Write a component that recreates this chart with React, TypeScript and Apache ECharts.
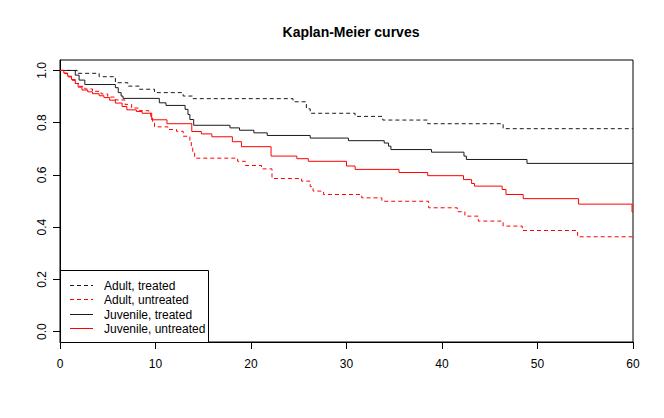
import React, { useEffect, useRef } from "react";
import * as echarts from "echarts";

const FONT = "'Liberation Sans', Arial, Helvetica, sans-serif";

const seriesNames = ["Adult, treated", "Adult, untreated", "Juvenile, treated", "Juvenile, untreated"];
const xTicks = [0, 10, 20, 30, 40, 50, 60];
const yTicks = [0, 0.2, 0.4, 0.6, 0.8, 1.0];

const adultTreatedT = [0, 1.8, 4.1, 5.8, 7.1, 8.3, 9.9, 12.9, 13.9, 24.4, 25.8, 26.2, 30.9, 33.8, 38.5, 46.4, 60];
const adultTreatedS = [1, 0.989, 0.976, 0.953, 0.94, 0.928, 0.915, 0.902, 0.892, 0.88, 0.853, 0.836, 0.824, 0.81, 0.796, 0.777, 0.777];

const adultUntreatedT = [0, 0.5, 0.9, 1.3, 1.6, 2.0, 2.6, 3.4, 4.3, 5.0, 5.8, 6.8, 7.5, 8.3, 9.3, 9.5, 9.7, 9.9, 11.3, 12.2, 12.9, 13.6, 13.75, 13.9, 14.1, 18.6, 19.4, 21.1, 22.2, 25.3, 26.2, 26.5, 27.6, 31.6, 33.7, 38.6, 41.6, 42.4, 43.8, 46.4, 48.4, 54.2, 60];
const adultUntreatedS = [1, 0.988, 0.975, 0.962, 0.95, 0.939, 0.929, 0.92, 0.91, 0.898, 0.887, 0.87, 0.856, 0.846, 0.838, 0.822, 0.805, 0.784, 0.774, 0.767, 0.748, 0.728, 0.705, 0.685, 0.664, 0.652, 0.636, 0.623, 0.586, 0.576, 0.555, 0.538, 0.525, 0.512, 0.499, 0.474, 0.459, 0.442, 0.423, 0.404, 0.387, 0.363, 0.363];

const juvTreatedT = [0, 1.6, 2.0, 2.6, 5.8, 6.1, 6.4, 6.6, 10.4, 11.1, 13.1, 13.4, 13.6, 14.0, 17.8, 18.8, 20.3, 21.7, 26.2, 30.2, 33.95, 34.4, 34.65, 38.9, 42.3, 42.55, 48.9, 60];
const juvTreatedS = [1, 0.982, 0.963, 0.946, 0.934, 0.915, 0.902, 0.893, 0.876, 0.866, 0.851, 0.831, 0.812, 0.79, 0.78, 0.771, 0.761, 0.751, 0.741, 0.731, 0.722, 0.71, 0.697, 0.687, 0.672, 0.659, 0.644, 0.644];

const juvUntreatedT = [0, 0.4, 0.8, 1.2, 1.6, 1.9, 2.3, 2.9, 3.4, 4.1, 4.6, 5.2, 5.8, 6.5, 7.0, 8.0, 8.6, 9.6, 11.2, 13.8, 14.8, 15.9, 18.05, 19.0, 22.1, 24.8, 26.0, 30.0, 30.9, 35.5, 38.5, 42.25, 43.1, 43.4, 46.3, 46.7, 48.5, 54.3, 59.9, 60];
const juvUntreatedS = [1, 0.99, 0.978, 0.965, 0.95, 0.936, 0.925, 0.918, 0.911, 0.903, 0.896, 0.886, 0.875, 0.862, 0.849, 0.843, 0.836, 0.811, 0.796, 0.766, 0.757, 0.746, 0.727, 0.708, 0.672, 0.662, 0.652, 0.634, 0.621, 0.609, 0.597, 0.582, 0.567, 0.557, 0.544, 0.525, 0.509, 0.488, 0.458, 0.458];

const zip = (t: number[], s: number[]) => t.map((v, i) => [v, s[i]]);

const BLACK = "#1a1a1a";
const RED = "#ff0000";
const seriesColors = [BLACK, RED, BLACK, RED];
const seriesDashed = [true, true, false, false];

export default function App() {
  const ref = useRef<HTMLDivElement>(null);
  useEffect(() => {
    document.body.style.margin = "0";
    if (!ref.current) return;
    const chart = echarts.init(ref.current, null, { renderer: "svg" });
    const mk = (i: number, data: number[][]) => ({
      name: seriesNames[i],
      type: "line",
      step: "end",
      data,
      symbol: "none",
      showSymbol: false,
      lineStyle: { color: seriesColors[i], width: 1, type: seriesDashed[i] ? [4, 3] : "solid" },
      itemStyle: { color: seriesColors[i] },
      emphasis: { disabled: true },
    });

    // legend drawn in R style
    const legX = 60, legY = 270, legW = 148, legH = 72, rowH = 14.35, firstRow = 285;
    const legendEls: any[] = [
      {
        id: "legbox",
        type: "rect",
        shape: { x: legX + 0.5, y: legY + 0.5, width: legW, height: legH },
        style: { fill: "#fff", stroke: "#000", lineWidth: 1 },
        z: 100,
      },
    ];
    seriesNames.forEach((name, i) => {
      const y = Math.round(firstRow + i * rowH) + 0.5;
      const segs = seriesDashed[i] ? [[70, 74], [77, 81], [84, 88], [91, 93]] : [[70, 93]];
      segs.forEach((s, k) => {
        legendEls.push({
          id: "legline" + i + "_" + k,
          type: "line",
          shape: { x1: s[0], y1: y, x2: s[1], y2: y },
          style: { stroke: seriesColors[i], lineWidth: 1 },
          z: 101,
        });
      });
      legendEls.push({
        id: "legtext" + i,
        type: "text",
        x: 104,
        y: y,
        style: { text: name, fontSize: 12, fontFamily: FONT, fill: "#000", verticalAlign: "middle", align: "left" },
        z: 101,
      });
    });

    chart.setOption({
      animation: false,
      backgroundColor: "#fff",
      title: {
        text: "Kaplan-Meier curves",
        left: 346,
        top: 20,
        textAlign: "center",
        textStyle: { fontSize: 14, fontWeight: "bold", color: "#000", fontFamily: FONT },
      },
      grid: {
        left: 60,
        right: 31,
        top: 60,
        bottom: 76,
        show: true,
        borderColor: "#000",
        borderWidth: 1,
        backgroundColor: "transparent",
      },
      xAxis: {
        type: "value",
        min: xTicks[0],
        max: xTicks[xTicks.length - 1],
        interval: 10,
        axisLine: { show: true, onZero: false, lineStyle: { color: "#000", width: 1 } },
        axisTick: { show: true, inside: false, length: 7, lineStyle: { color: "#000" } },
        axisLabel: { margin: 16, fontSize: 12, color: "#000", fontFamily: FONT },
        splitLine: { show: false },
      },
      yAxis: {
        type: "value",
        min: -0.04,
        max: 1.04,
        axisLine: { show: true, onZero: false, lineStyle: { color: "#000", width: 1 } },
        axisTick: { show: true, inside: false, length: 7, customValues: yTicks, lineStyle: { color: "#000" } },
        axisLabel: {
          customValues: yTicks,
          rotate: 90,
          margin: 12,
          fontSize: 12,
          color: "#000",
          fontFamily: FONT,
          formatter: (v: number) => v.toFixed(1),
        },
        splitLine: { show: false },
      },
      graphic: legendEls,
      series: [
        mk(0, zip(adultTreatedT, adultTreatedS)),
        mk(1, zip(adultUntreatedT, adultUntreatedS)),
        mk(2, zip(juvTreatedT, juvTreatedS)),
        mk(3, zip(juvUntreatedT, juvUntreatedS)),
      ],
    });
    return () => chart.dispose();
  }, []);
  return <div ref={ref} style={{ width: 664, height: 418 }} />;
}
